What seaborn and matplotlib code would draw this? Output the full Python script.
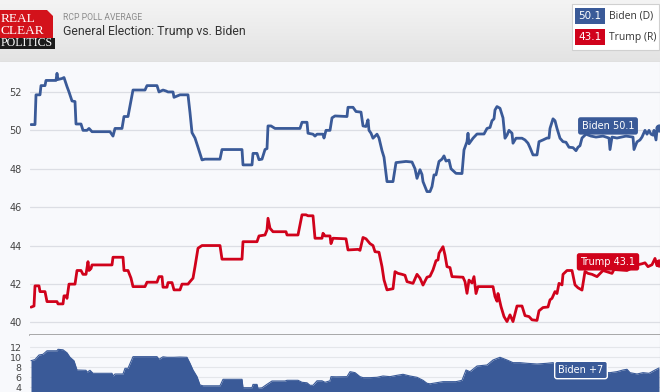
import numpy as np
import pandas as pd
import matplotlib
matplotlib.use("Agg")
import matplotlib.pyplot as plt
import seaborn as sns
from matplotlib.patches import Rectangle, Polygon
from matplotlib.colors import LinearSegmentedColormap

## data (t = day index along the poll-average timeline)
biden_t = [0, 4, 5, 9, 10, 14, 15, 25, 26, 27, 31, 33, 36, 38, 41, 44, 45, 50, 52, 56,
           58, 61, 79, 82, 84, 91, 93, 97, 102, 114, 116, 126, 128, 132, 135, 137, 142, 143, 149, 157,
           159, 161, 164, 167, 171, 174, 189, 191, 211, 212, 221, 222, 226, 228, 231, 234, 236, 237, 240, 244,
           269, 271, 276, 277, 282, 284, 286, 292, 293, 295, 299, 301, 304, 316, 317, 322, 325, 330, 332, 335,
           337, 338, 340, 342, 346, 348, 351, 353, 356, 362, 365, 375, 381, 384, 386, 389, 391, 392, 396, 399,
           401, 403, 405, 408, 411, 413, 415, 418, 420, 425, 431, 433, 436, 437, 438, 442, 446, 453, 456, 459,
           461, 463, 464, 466, 469, 472, 474, 476, 478, 481, 482, 485, 491, 494, 497, 499, 502, 506, 508, 512,
           516, 518, 519, 522, 524, 526, 529, 532, 535, 538, 542, 545, 547, 549, 551, 555, 560, 565, 572, 578,
           579, 581, 586, 595, 602, 603, 606, 609, 611, 614, 616, 618, 620, 622, 623, 625, 626, 628]
biden_v = [50.3, 50.3, 51.85, 51.85, 52.33, 52.33, 52.6, 52.6, 52.97, 52.65, 52.7, 52.75, 52.28, 52.0, 51.53, 51.5, 50.33, 50.33, 50.0, 50.0,
           50.1, 49.93, 49.93, 49.7, 50.1, 50.1, 50.72, 50.72, 52.1, 52.1, 52.33, 52.33, 52.0, 52.1, 52.05, 52.0, 52.0, 51.72, 51.85, 51.85,
           50.92, 49.88, 49.6, 49.12, 48.46, 48.5, 48.5, 49.0, 49.0, 48.2, 48.2, 48.8, 48.8, 48.47, 48.5, 49.0, 49.05, 50.23, 50.23, 50.1,
           50.1, 50.42, 50.42, 49.85, 49.8, 49.7, 49.8, 49.8, 49.6, 50.0, 50.0, 50.65, 50.75, 50.72, 51.2, 51.2, 50.98, 50.95, 50.23, 50.2,
           50.55, 50.0, 49.85, 49.59, 49.8, 49.6, 48.94, 48.6, 47.33, 47.33, 48.32, 48.38, 48.35, 48.0, 47.5, 47.95, 47.7, 47.33, 46.81, 46.81,
           47.07, 47.68, 47.68, 48.38, 48.5, 48.67, 48.4, 48.45, 48.0, 47.76, 47.75, 48.98, 49.41, 49.85, 49.3, 49.59, 49.81, 49.81, 50.1, 50.15,
           50.5, 50.6, 51.06, 51.24, 51.15, 50.65, 49.59, 49.75, 50.0, 49.85, 49.33, 49.59, 49.59, 49.5, 49.33, 49.1, 48.72, 48.72, 49.41, 49.5,
           49.6, 49.6, 50.1, 50.6, 50.5, 50.1, 49.59, 49.41, 49.38, 49.12, 49.1, 48.94, 49.12, 49.2, 49.6, 49.8, 49.7, 49.65, 49.7, 49.6,
           49.0, 49.65, 49.6, 49.7, 49.65, 49.0, 49.4, 49.5, 49.65, 50.0, 49.8, 50.0, 49.8, 49.75, 50.0, 49.5, 50.0, 50.13]

trump_t = [0, 3, 4, 8, 9, 14, 16, 26, 27, 32, 33, 35, 36, 38, 44, 46, 50, 52, 55, 57,
           58, 60, 61, 81, 82, 92, 93, 97, 100, 102, 114, 116, 126, 128, 131, 132, 136, 137, 141, 143,
           149, 151, 157, 159, 162, 164, 167, 171, 189, 191, 211, 212, 226, 228, 234, 236, 237, 239, 242, 255,
           256, 267, 271, 275, 277, 282, 284, 291, 292, 294, 299, 300, 302, 315, 317, 327, 329, 332, 335, 339,
           342, 344, 348, 351, 353, 356, 362, 364, 367, 371, 374, 376, 382, 386, 389, 392, 396, 399, 402, 405,
           407, 408, 412, 414, 416, 419, 421, 432, 434, 436, 438, 441, 443, 445, 447, 462, 464, 466, 467, 470,
           473, 476, 479, 482, 486, 491, 494, 498, 501, 506, 508, 512, 517, 519, 521, 524, 526, 528, 531, 532,
           536, 541, 544, 547, 551, 554, 557, 561, 566, 572, 581, 583, 596, 607, 611, 614, 617, 621, 624, 626, 628]
trump_v = [40.79, 40.85, 41.9, 41.9, 41.6, 41.6, 41.08, 41.08, 40.96, 40.96, 41.38, 41.38, 41.25, 41.99, 41.99, 42.7, 42.7, 42.5, 42.5, 43.16,
           42.7, 42.8, 42.99, 42.99, 43.39, 43.39, 42.7, 42.7, 42.3, 41.86, 41.86, 42.09, 42.09, 42.38, 42.38, 41.83, 41.83, 42.07, 42.07, 41.69,
           41.69, 41.99, 41.99, 42.12, 42.3, 42.9, 43.86, 44.0, 44.0, 43.29, 43.29, 44.2, 44.2, 44.5, 44.55, 44.81, 45.42, 44.9, 44.72, 44.72,
           44.55, 44.55, 45.6, 45.6, 45.55, 45.55, 44.38, 44.38, 44.64, 44.5, 44.5, 44.1, 44.38, 44.35, 43.77, 43.8, 43.75, 44.42, 44.35, 44.1,
           44.0, 43.68, 43.65, 42.9, 42.21, 41.69, 41.75, 42.64, 42.55, 42.5, 42.45, 42.12, 42.03, 42.5, 42.3, 41.94, 42.35, 42.4, 42.73, 43.21,
           43.25, 43.6, 43.94, 43.5, 42.9, 42.85, 42.38, 42.35, 42.12, 41.51, 42.2, 42.05, 42.38, 41.5, 41.86, 41.86, 41.34, 41.1, 41.5, 40.82,
           40.3, 40.04, 40.39, 40.04, 40.85, 40.85, 40.35, 40.3, 40.13, 40.1, 40.6, 40.77, 40.8, 41.17, 41.25, 41.6, 41.5, 42.03, 41.95, 42.5,
           42.7, 42.7, 41.95, 41.8, 41.68, 42.65, 42.55, 42.5, 42.38, 42.7, 42.55, 42.75, 42.7, 43.0, 43.05, 43.1, 42.9, 43.0, 43.33, 42.95, 43.1]

spread_t = [0, 4, 8, 12, 16, 26, 27, 32, 36, 39, 43, 46, 55, 56, 59, 62, 81, 82, 84, 92,
            94, 97, 102, 126, 128, 132, 136, 143, 149, 156, 159, 162, 166, 169, 172, 189, 192, 211, 212, 221,
            222, 226, 227, 231, 236, 241, 254, 256, 267, 271, 276, 279, 282, 286, 291, 294, 299, 300, 305, 316,
            319, 324, 329, 332, 339, 346, 352, 359, 366, 372, 379, 386, 392, 396, 399, 412, 425, 431, 435, 439,
            446, 456, 462, 469, 476, 482, 489, 496, 506, 516, 522, 530, 545, 565, 579, 586, 592, 596, 599, 606,
            612, 618, 624, 628]
spread_v = [9.32, 9.55, 10.46, 10.6, 11.3, 11.3, 11.6, 11.5, 10.9, 10.0, 9.3, 7.46, 7.4, 7.0, 7.4, 6.8, 6.8, 6.26, 6.66, 6.66,
            7.8, 7.8, 10.13, 10.13, 9.6, 10.1, 10.0, 10.0, 10.05, 10.0, 8.8, 7.46, 6.13, 4.46, 4.3, 4.3, 5.6, 5.6, 3.92, 3.92,
            4.58, 4.58, 3.8, 3.9, 4.6, 5.26, 5.26, 5.4, 5.4, 5.0, 4.9, 4.4, 4.4, 5.3, 5.3, 5.0, 5.3, 6.13, 6.1, 6.13,
            7.13, 6.93, 6.13, 5.93, 5.93, 6.0, 6.26, 6.13, 6.4, 6.6, 6.26, 6.0, 5.4, 4.8, 4.7, 5.13, 5.13, 5.4, 7.46, 7.13,
            8.26, 8.46, 9.46, 10.0, 9.46, 8.93, 8.93, 8.8, 8.66, 8.8, 8.93, 8.0, 7.2, 7.0, 6.93, 7.13, 7.46, 7.6, 6.93, 6.66,
            6.93, 6.8, 7.46, 7.86]

biden_last = "50.1"
trump_last = "43.1"
spread_last = "+7"
main_ticks = [40, 42, 44, 46, 48, 50, 52]
spread_ticks = [4, 6, 8, 10, 12]

BLUE = "#3a5a98"
RED = "#d0021b"

sns.set_style("white")
plt.rcParams['font.family'] = ['DejaVu Sans']

fig = plt.figure(figsize=(6.6, 3.92), dpi=100)
fig.patch.set_facecolor("#f8f9fc")

## header band (pixel coordinates)
hdr = fig.add_axes([0, 1 - 62 / 392, 1, 62 / 392])
hdr.set_xlim(0, 660)
hdr.set_ylim(62, 0)
hdr.axis("off")
cm = LinearSegmentedColormap.from_list("hdr", ["#f4f4f4", "#e3e3e3"])
hdr.imshow(np.linspace(0, 1, 64).reshape(-1, 1), extent=[0, 660, 62, 0], cmap=cm, aspect="auto")
hdr.plot([0, 660], [61.5, 61.5], color="#d6d6d6", lw=1)

# logo
hdr.add_patch(Polygon([[0, 10], [47, 10], [53, 16], [53, 38], [0, 38]], closed=True, fc="#d3121b", ec="none"))
hdr.add_patch(Rectangle((0, 38), 55, 10.5, fc="#1b1b1b", ec="none"))
serif = ["Liberation Serif", "DejaVu Serif"]
hdr.text(0.5, 19.5, "REAL", color="white", family=serif, size=9.6, va="center", ha="left")
hdr.text(0.5, 30.5, "CLEAR", color="white", family=serif, size=9.6, va="center", ha="left")
hdr.text(0.5, 43.5, "POLITICS", color="white", family=serif, size=8.6, va="center", ha="left")

hdr.text(63, 17, "RCP POLL AVERAGE", color="#8c8c8c", family=["Roboto"], size=6.2, va="center")
hdr.text(63, 32, "General Election: Trump vs. Biden", color="#333333", family=["Roboto"], size=8.8, va="center")

# legend box
hdr.add_patch(Rectangle((572, 4), 87, 46, fc="white", ec="#d0d0d0", lw=0.8))
hdr.add_patch(Rectangle((575, 8), 30, 16, fc=BLUE, ec="none"))
hdr.add_patch(Rectangle((575, 29), 30, 16, fc=RED, ec="none"))
hdr.text(590, 16.3, biden_last, color="white", size=7.5, ha="center", va="center")
hdr.text(590, 37.3, trump_last, color="white", size=7.5, ha="center", va="center")
hdr.text(609, 16.3, "Biden (D)", color="#333333", size=7.5, ha="left", va="center", family=["Open Sans"])
hdr.text(609, 37.3, "Trump (R)", color="#333333", size=7.5, ha="left", va="center", family=["Open Sans"])

## main chart
ax = fig.add_axes([30 / 660, 1 - 335 / 392, 630 / 660, 273 / 392])
ax.set_facecolor("#f8f9fc")
df_b = pd.DataFrame({"t": biden_t, "v": biden_v})
df_t = pd.DataFrame({"t": trump_t, "v": trump_v})
sns.lineplot(data=df_b, x="t", y="v", color=BLUE, lw=2.0, ax=ax, estimator=None, sort=False)
sns.lineplot(data=df_t, x="t", y="v", color=RED, lw=2.0, ax=ax, estimator=None, sort=False)
ax.scatter([biden_t[-1]], [biden_v[-1]], s=24, color=BLUE, zorder=5)
ax.scatter([trump_t[-1]], [trump_v[-1]], s=24, color=RED, zorder=5)

ax.set_xlim(-1, 629)
ax.set_ylim(39.34, 53.56)
ax.set_yticks(main_ticks)
ax.set_xticks([])
ax.set_xlabel("")
ax.set_ylabel("")
ax.grid(axis="y", color="#dcdee4", lw=0.9)
ax.tick_params(axis="y", length=0, pad=6, labelsize=7, labelcolor="#444444")
for s in ["left", "top"]:
    ax.spines[s].set_visible(False)
ax.spines["right"].set_color("#cfcfcf")
ax.spines["bottom"].set_color("#9a9a9a")
ax.spines["bottom"].set_linewidth(1.2)

box = dict(boxstyle="round,pad=0.38,rounding_size=0.25", ec="none")
ax.text(577, 50.23, f"Biden {biden_last}", ha="center", va="center", color="white", size=7,
        bbox=dict(box, fc=BLUE), zorder=6)
ax.text(577, 43.15, f"Trump {trump_last}", ha="center", va="center", color="white", size=7,
        bbox=dict(box, fc=RED), zorder=6)

## spread panel
ax2 = fig.add_axes([30 / 660, 0, 630 / 660, 57 / 392])
ax2.set_facecolor("#f8f9fc")
df_s = pd.DataFrame({"t": spread_t, "v": spread_v})
sns.lineplot(data=df_s, x="t", y="v", color=BLUE, lw=0.8, ax=ax2, estimator=None, sort=False)
ax2.fill_between(df_s["t"], df_s["v"], 0, color=BLUE, lw=0)
ax2.set_xlim(-1, 629)
ax2.set_ylim(3.06, 14.46)
ax2.set_yticks(spread_ticks)
ax2.set_xticks([])
ax2.set_xlabel("")
ax2.set_ylabel("")
ax2.grid(axis="y", color="#e4e6ea", lw=0.8)
ax2.tick_params(axis="y", length=0, pad=6, labelsize=6.8, labelcolor="#444444")
for s in ["left", "top", "bottom"]:
    ax2.spines[s].set_visible(False)
ax2.spines["right"].set_color("#cfcfcf")
ax2.text(550, 7.46, f"Biden {spread_last}", ha="center", va="center", color="white", size=7,
         bbox=dict(boxstyle="round,pad=0.38,rounding_size=0.25", fc=BLUE, ec="white", lw=1), zorder=6)

fig.savefig("out.png", dpi=100)
